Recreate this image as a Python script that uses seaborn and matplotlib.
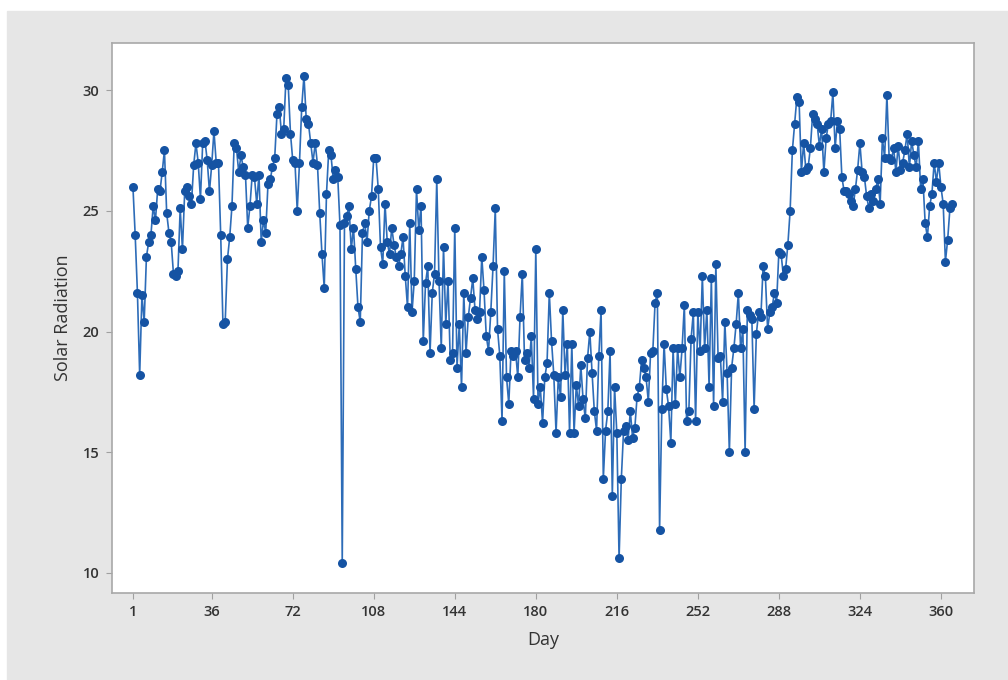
import numpy as np
import pandas as pd
import matplotlib
matplotlib.use("Agg")
import matplotlib.pyplot as plt
import seaborn as sns

# Daily solar radiation values (days 1..365)
vals_001_050 = [26.0, 24.0, 21.6, 18.2, 21.5, 20.4, 23.1, 23.7, 24.0, 25.2,
                24.6, 25.9, 25.8, 26.6, 27.5, 24.9, 24.1, 23.7, 22.4, 22.3,
                22.5, 25.1, 23.4, 25.8, 26.0, 25.6, 25.3, 26.9, 27.8, 27.0,
                25.5, 27.8, 27.9, 27.1, 25.8, 26.9, 28.3, 27.0, 27.0, 24.0,
                20.3, 20.4, 23.0, 23.9, 25.2, 27.8, 27.6, 26.6, 27.3, 26.8]
vals_051_100 = [26.5, 24.3, 25.2, 26.5, 26.4, 25.3, 26.5, 23.7, 24.6, 24.1,
                26.1, 26.3, 26.8, 27.2, 29.0, 29.3, 28.2, 28.4, 30.5, 30.2,
                28.2, 27.1, 27.0, 25.0, 27.0, 29.3, 30.6, 28.8, 28.6, 27.8,
                27.0, 27.8, 26.9, 24.9, 23.2, 21.8, 25.7, 27.5, 27.3, 26.3,
                26.7, 26.4, 24.4, 10.4, 24.5, 24.8, 25.2, 23.4, 24.3, 22.6]
vals_101_150 = [21.0, 20.4, 24.1, 24.5, 23.7, 25.0, 25.6, 27.2, 27.2, 25.9,
                23.5, 22.8, 25.3, 23.7, 23.2, 24.3, 23.6, 23.1, 22.7, 23.2,
                23.9, 22.3, 21.0, 24.5, 20.8, 22.1, 25.9, 24.2, 25.2, 19.6,
                22.0, 22.7, 19.1, 21.6, 22.4, 26.3, 22.1, 19.3, 23.5, 20.3,
                22.1, 18.8, 19.1, 24.3, 18.5, 20.3, 17.7, 21.6, 19.1, 20.6]
vals_151_200 = [21.4, 22.2, 20.9, 20.5, 20.8, 23.1, 21.7, 19.8, 19.2, 20.8,
                22.7, 25.1, 20.1, 19.0, 16.3, 22.5, 18.1, 17.0, 19.2, 19.0,
                19.2, 18.1, 20.6, 22.4, 18.8, 19.1, 18.5, 19.8, 17.2, 23.4,
                17.0, 17.7, 16.2, 18.1, 18.7, 21.6, 19.6, 18.2, 15.8, 18.1,
                17.3, 20.9, 18.2, 19.5, 15.8, 19.5, 15.8, 17.8, 16.9, 18.6]
vals_201_250 = [17.2, 16.4, 18.9, 20.0, 18.3, 16.7, 15.9, 19.0, 20.9, 13.9,
                15.9, 16.7, 19.2, 13.2, 17.7, 15.8, 10.6, 13.9, 15.9, 16.1,
                15.5, 16.7, 15.6, 16.0, 17.3, 17.7, 18.8, 18.5, 18.1, 17.1,
                19.1, 19.2, 21.2, 21.6, 11.8, 16.8, 19.5, 17.6, 16.9, 15.4,
                19.3, 17.0, 19.3, 18.1, 19.3, 21.1, 16.3, 16.7, 19.7, 20.8]
vals_251_300 = [16.3, 20.8, 19.2, 22.3, 19.3, 20.9, 17.7, 22.2, 16.9, 22.8,
                18.9, 19.0, 17.1, 20.4, 18.3, 15.0, 18.5, 19.3, 20.3, 21.6,
                19.3, 20.1, 15.0, 20.9, 20.7, 20.5, 16.8, 19.9, 20.8, 20.6,
                22.7, 22.3, 20.1, 20.8, 21.0, 21.6, 21.2, 23.3, 23.2, 22.3,
                22.6, 23.6, 25.0, 27.5, 28.6, 29.7, 29.5, 26.6, 27.8, 26.7]
vals_301_365 = [26.8, 27.6, 29.0, 28.8, 28.6, 27.7, 28.4, 26.6, 28.0, 28.6,
                28.7, 29.9, 27.6, 28.7, 28.4, 26.4, 25.8, 25.8, 25.7, 25.4,
                25.2, 25.9, 26.7, 27.8, 26.6, 26.4, 25.6, 25.1, 25.7, 25.4,
                25.9, 26.3, 25.3, 28.0, 27.2, 29.8, 27.2, 27.1, 27.6, 26.6,
                27.7, 26.7, 27.0, 27.5, 28.2, 26.8, 27.9, 27.3, 26.8, 27.9,
                25.9, 26.3, 24.5, 23.9, 25.2, 25.7, 27.0, 26.2, 27.0, 26.0,
                25.3, 22.9, 23.8, 25.1, 25.3]

solar = (vals_001_050 + vals_051_100 + vals_101_150 + vals_151_200 +
         vals_201_250 + vals_251_300 + vals_301_365)
days = list(range(1, len(solar) + 1))

x_ticks = [1, 36, 72, 108, 144, 180, 216, 252, 288, 324, 360]
y_ticks = [10, 15, 20, 25, 30]

df = pd.DataFrame({"Day": days, "Solar Radiation": solar})

sns.set_theme(style="white")
plt.rcParams["font.family"] = ["Open Sans", "DejaVu Sans"]

fig = plt.figure(figsize=(10.08, 6.8), dpi=100, facecolor="white")
# gray panel background (Minitab-style graph region)
bg = plt.Rectangle((7 / 1008, 0), 1, 1 - 11 / 680,
                   transform=fig.transFigure, color="#e6e6e6", zorder=-10)
fig.add_artist(bg)
ax = fig.add_axes([112 / 1008, 1 - 593 / 680, 862 / 1008, 550 / 680])
ax.set_zorder(5)
ax.set_facecolor("white")

sns.lineplot(data=df, x="Day", y="Solar Radiation", ax=ax, color="#2d6cb8",
             linewidth=1.2, marker="o", markersize=6.5, markeredgewidth=0,
             markerfacecolor="#1553a3")

ax.set_xlim(-8.3, 374.7)
ax.set_ylim(9.17, 31.95)
ax.set_xticks(x_ticks)
ax.set_yticks(y_ticks)
ax.tick_params(axis="both", which="both", direction="out", length=4,
               width=0.8, color="#a0a0a0", labelsize=10.5, labelcolor="#333333",
               bottom=True, left=True, pad=5)
for lab in ax.get_xticklabels() + ax.get_yticklabels():
    lab.set_fontweight("semibold")
ax.set_xlabel("Day", fontsize=13, color="#333333", labelpad=8)
ax.set_ylabel("Solar Radiation", fontsize=13, color="#333333", labelpad=8)
for sp in ax.spines.values():
    sp.set_visible(True)
    sp.set_color("#a8a8a8")
    sp.set_linewidth(1.2)
ax.grid(False)

fig.savefig("out.png", dpi=100, facecolor=fig.get_facecolor())
